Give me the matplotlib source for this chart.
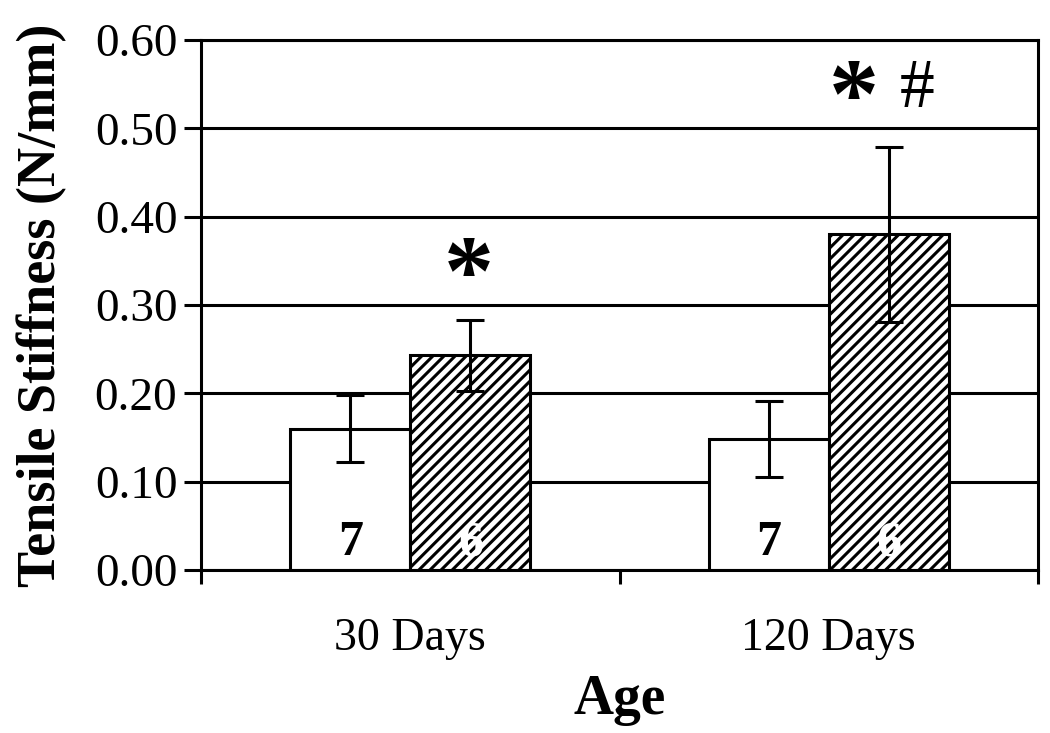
"""Tensile stiffness by age (30 / 120 days), two groups, mean ± SD with n in bars."""
import numpy as np
import matplotlib
matplotlib.use("Agg")
import matplotlib.pyplot as plt

plt.rcParams["font.family"] = ["Liberation Serif", "DejaVu Serif"]
plt.rcParams["hatch.linewidth"] = 2.2

# ---------------------------------------------------------------- data
AGES = ["30 Days", "120 Days"]
CTRL_MEAN = [0.160, 0.148]
CTRL_SD = [0.038, 0.043]
TRT_MEAN = [0.243, 0.380]
TRT_SD = [0.040, 0.099]
CTRL_N = ["7", "7"]
TRT_N = ["6", "6"]
SIG = ["*", "*"]          # vs control
SIG2 = ["", "#"]          # vs 30 days

YTICKS = [0.0, 0.1, 0.2, 0.3, 0.4, 0.5, 0.6]

# ---------------------------------------------------------------- figure
fig = plt.figure(figsize=(10.5, 7.33), dpi=100)
ax = fig.add_axes([0.1914, 0.2224, 0.7972, 0.723])

x = np.arange(len(AGES))
W = 0.287
LW = 2.2

ax.set_ylim(0, 0.6)
ax.set_xlim(-0.5, len(AGES) - 0.5)
ax.set_yticks(YTICKS)
ax.set_yticklabels([f"{v:.2f}" for v in YTICKS])
ax.yaxis.grid(True, color="black", lw=LW)
ax.set_axisbelow(True)

ax.bar(x - W / 2, CTRL_MEAN, W, color="white", edgecolor="black", lw=LW, zorder=2)
ax.bar(x + W / 2, TRT_MEAN, W, color="white", edgecolor="black", lw=LW,
       hatch="///", zorder=2)
ax.errorbar(x - W / 2, CTRL_MEAN, yerr=CTRL_SD, fmt="none", ecolor="black",
            elinewidth=LW, capsize=10, capthick=LW, zorder=3)
ax.errorbar(x + W / 2, TRT_MEAN, yerr=TRT_SD, fmt="none", ecolor="black",
            elinewidth=LW, capsize=10, capthick=LW, zorder=3)

# n per bar
for xi, nc, nt in zip(x, CTRL_N, TRT_N):
    ax.text(xi - W / 2, 0.004, nc, ha="center", va="bottom", fontsize=36,
            fontweight="bold", color="black", zorder=4)
    ax.text(xi + W / 2, 0.004, nt, ha="center", va="bottom", fontsize=36,
            fontweight="bold", color="white", zorder=4)

# significance marks
for xi, s1, s2 in zip(x, SIG, SIG2):
    if s2:
        ax.text(xi + 0.06, 0.530, s1, ha="center", va="center",
                fontsize=72, fontweight="bold", zorder=4)
        ax.text(xi + 0.21, 0.543, s2, ha="center", va="center",
                fontsize=50, zorder=4)
    else:
        ax.text(xi + 0.14, 0.330, s1, ha="center", va="center",
                fontsize=72, fontweight="bold", zorder=4)

# axes styling: ticks at category boundaries
ax.set_xticks(np.arange(-0.5, len(AGES), 1.0))
ax.set_xticklabels([])
ax.set_xticks(x, AGES, minor=True)
ax.tick_params(axis="x", which="major", direction="out", length=10, width=LW)
ax.tick_params(axis="x", which="minor", length=0, pad=34, labelsize=33)
ax.tick_params(axis="y", direction="out", length=12, width=LW, labelsize=34, pad=5)
for sp in ax.spines.values():
    sp.set_linewidth(LW)
    sp.set_color("black")

ax.set_ylabel("Tensile Stiffness (N/mm)", fontsize=39, fontweight="bold", labelpad=20)
ax.set_xlabel("Age", fontsize=40, fontweight="bold", labelpad=10)

fig.savefig("out.png", dpi=100)
